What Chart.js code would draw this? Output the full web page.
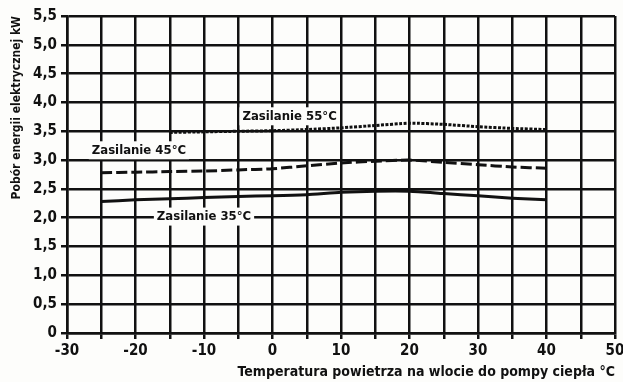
<!DOCTYPE html>
<html>
<head>
<meta charset="utf-8">
<script src="https://cdn.jsdelivr.net/npm/chart.js@4/dist/chart.umd.min.js"></script>
<style>
  html, body { margin: 0; padding: 0; background: #fdfdfb; }
  canvas { display: block; }
</style>
</head>
<body>
<canvas id="chart" width="623" height="382"></canvas>
<script>
const TEMPS = [-25, -20, -15, -10, -5, 0, 5, 10, 15, 20, 25, 30, 35, 40];
const SUPPLY_35 = [2.28, 2.31, 2.33, 2.35, 2.37, 2.38, 2.40, 2.44, 2.46, 2.46, 2.42, 2.38, 2.34, 2.31];
const SUPPLY_45 = [2.78, 2.79, 2.80, 2.81, 2.83, 2.85, 2.90, 2.95, 2.98, 3.00, 2.96, 2.92, 2.88, 2.86];
const SUPPLY_55 = [null, null, 3.48, 3.49, 3.50, 3.51, 3.53, 3.56, 3.60, 3.64, 3.62, 3.58, 3.55, 3.53];

const SERIES_NAMES = ["Zasilanie 35°C", "Zasilanie 45°C", "Zasilanie 55°C"];
// where each series name sits, in data units
const LABEL_X = [-10, -19.5, 2.5];
const LABEL_Y = [2.02, 3.17, 3.76];

const X_TICK_LABELS = ["-30", "-20", "-10", "0", "10", "20", "30", "40", "50"];
const Y_TICK_LABELS = ["0", "0,5", "1,0", "1,5", "2,0", "2,5", "3,0", "3,5", "4,0", "4,5", "5,0", "5,5"];

const Y_TITLE = "Pobór energii elektrycznej kW";
const X_TITLE = "Temperatura powietrza na wlocie do pompy ciepła °C";

const FONT = '"Liberation Sans Narrow", "DejaVu Sans Condensed", "Liberation Sans", sans-serif';
const INK = "#111";
const PAPER = "#fdfdfb";

function points(values) {
  return TEMPS.map((t, i) => ({ x: t, y: values[i] }));
}

const paper = {
  id: "paper",
  beforeDraw(chart) {
    const ctx = chart.ctx;
    ctx.save();
    ctx.fillStyle = PAPER;
    ctx.fillRect(0, 0, chart.width, chart.height);
    ctx.restore();
  }
};

// series names on white patches over the grid
const lineLabels = {
  id: "lineLabels",
  beforeDatasetsDraw(chart) {
    const { ctx, scales } = chart;
    ctx.save();
    ctx.font = "bold 13px " + FONT;
    ctx.textAlign = "center";
    ctx.textBaseline = "middle";
    SERIES_NAMES.forEach((text, i) => {
      const px = scales.x.getPixelForValue(LABEL_X[i]);
      const py = scales.y.getPixelForValue(LABEL_Y[i]);
      const w = ctx.measureText(text).width;
      ctx.fillStyle = PAPER;
      ctx.fillRect(px - w / 2 - 3, py - 9, w + 6, 18);
      ctx.fillStyle = INK;
      ctx.fillText(text, px, py);
    });
    ctx.restore();
  }
};

new Chart(document.getElementById("chart"), {
  type: "line",
  data: {
    datasets: [
      { label: SERIES_NAMES[0], data: points(SUPPLY_35), borderColor: INK, borderWidth: 3, pointRadius: 0, tension: 0.2 },
      { label: SERIES_NAMES[1], data: points(SUPPLY_45), borderColor: INK, borderWidth: 3, borderDash: [11, 4], pointRadius: 0, tension: 0.2 },
      { label: SERIES_NAMES[2], data: points(SUPPLY_55), borderColor: INK, borderWidth: 3, borderDash: [3, 1.5], pointRadius: 0, tension: 0.2, spanGaps: false }
    ]
  },
  options: {
    responsive: false,
    animation: false,
    layout: { padding: { top: 16, right: 8, left: 0, bottom: 0 } },
    plugins: { legend: { display: false }, tooltip: { enabled: false } },
    scales: {
      x: {
        type: "linear",
        min: -30,
        max: 50,
        afterFit(scale) { scale.height = 49; scale.paddingRight = 0; },
        grid: { color: INK, lineWidth: 2.5, tickLength: 6, tickColor: INK },
        border: { color: INK, width: 2.5 },
        ticks: {
          stepSize: 5,
          padding: 3,
          color: INK,
          font: { family: FONT, size: 15, weight: "bold" },
          maxRotation: 0,
          autoSkip: false,
          callback: v => (v % 10 === 0 ? X_TICK_LABELS[(v + 30) / 10] : "")
        },
        title: {
          display: true,
          text: X_TITLE,
          align: "end",
          color: INK,
          font: { family: FONT, size: 14, weight: "bold" },
          padding: { top: 0, bottom: 1 }
        }
      },
      y: {
        min: 0,
        max: 5.5,
        afterFit(scale) { scale.width = 67; },
        grid: { color: INK, lineWidth: 2.5, tickLength: 6, tickColor: INK },
        border: { color: INK, width: 2.5 },
        ticks: {
          stepSize: 0.5,
          padding: 4,
          color: INK,
          font: { family: FONT, size: 15, weight: "bold" },
          callback: v => Y_TICK_LABELS[Math.round(v * 2)]
        },
        title: {
          display: true,
          text: Y_TITLE,
          align: "end",
          color: INK,
          font: { family: FONT, size: 12, weight: "bold" },
          padding: { top: 10, bottom: 0 }
        }
      }
    }
  },
  plugins: [paper, lineLabels]
});
</script>
</body>
</html>
